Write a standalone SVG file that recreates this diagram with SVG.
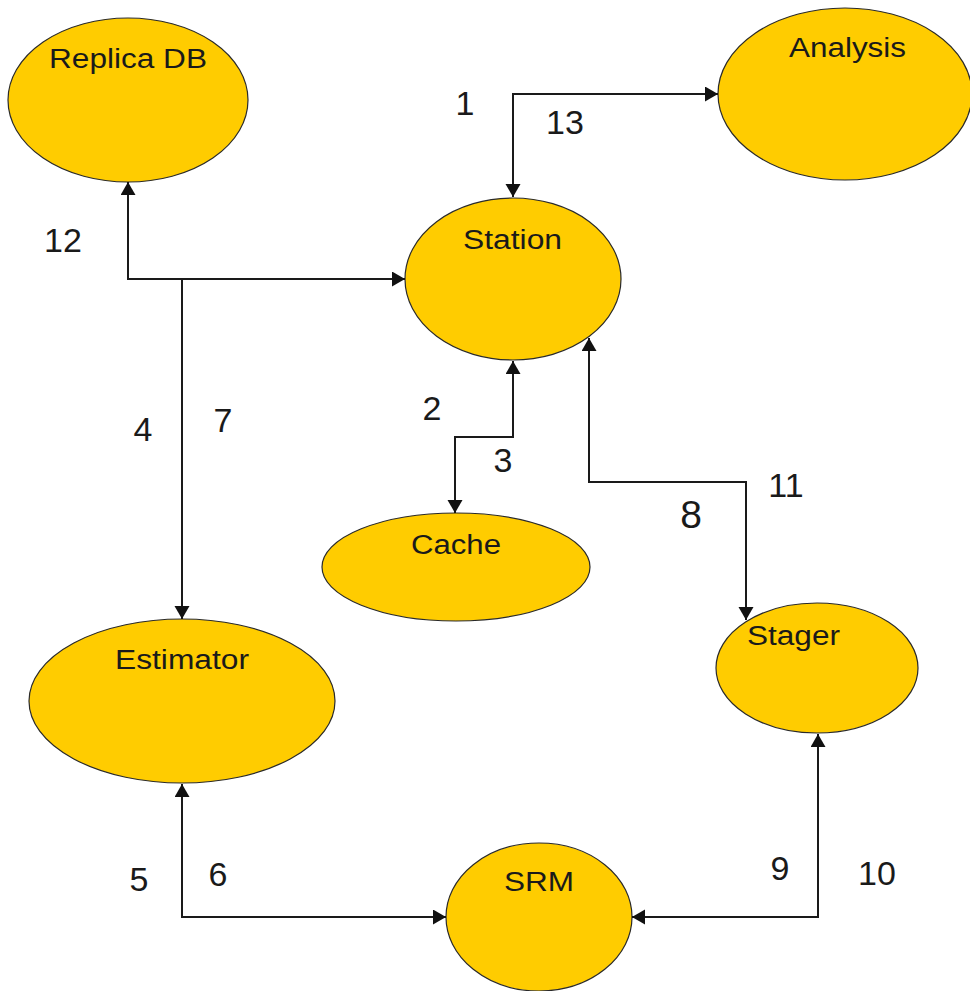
<svg xmlns="http://www.w3.org/2000/svg" width="970" height="991" viewBox="0 0 970 991">
  <style>
    .node { fill: #FFCC00; stroke: #2a2a2a; stroke-width: 1.2; }
    .name { font-family: "Liberation Sans", Arial, sans-serif; font-size: 27px; fill: #1a1a1a; }
    .num { font-family: "Liberation Sans", Arial, sans-serif; font-size: 34px; fill: #1a1a1a; text-anchor: middle; }
    .link { fill: none; stroke: #1a1a1a; stroke-width: 2; }
    .both { marker-start: url(#arrow); marker-end: url(#arrow); }
    .one { marker-end: url(#arrow); }
  </style>
  <defs>
    <marker id="arrow" markerUnits="userSpaceOnUse" markerWidth="14" markerHeight="16" refX="13" refY="7.5" orient="auto-start-reverse">
      <path d="M0,0 L13,7.5 L0,15 Z" fill="#111"/>
    </marker>
  </defs>

  <rect width="970" height="991" fill="#ffffff"/>

  <!-- nodes -->
  <g id="replica-db">
    <ellipse class="node" cx="128" cy="100" rx="120" ry="82"/>
    <text class="name" x="49" y="68" textLength="158" lengthAdjust="spacingAndGlyphs">Replica DB</text>
  </g>
  <g id="analysis">
    <ellipse class="node" cx="845" cy="94" rx="127" ry="86"/>
    <text class="name" x="789" y="57" textLength="117" lengthAdjust="spacingAndGlyphs">Analysis</text>
  </g>
  <g id="station">
    <ellipse class="node" cx="513" cy="279" rx="108" ry="81"/>
    <text class="name" x="463" y="249" textLength="99" lengthAdjust="spacingAndGlyphs">Station</text>
  </g>
  <g id="cache">
    <ellipse class="node" cx="456" cy="567" rx="134" ry="54"/>
    <text class="name" x="411" y="554" textLength="90" lengthAdjust="spacingAndGlyphs">Cache</text>
  </g>
  <g id="estimator">
    <ellipse class="node" cx="182" cy="701" rx="153" ry="82"/>
    <text class="name" x="115" y="669" textLength="134" lengthAdjust="spacingAndGlyphs">Estimator</text>
  </g>
  <g id="stager">
    <ellipse class="node" cx="817" cy="668" rx="101" ry="65"/>
    <text class="name" x="747" y="645" textLength="93" lengthAdjust="spacingAndGlyphs">Stager</text>
  </g>
  <g id="srm">
    <ellipse class="node" cx="539" cy="917" rx="93" ry="74"/>
    <text class="name" x="504" y="891" textLength="70" lengthAdjust="spacingAndGlyphs">SRM</text>
  </g>

  <!-- connectors -->
  <g id="connectors">
    <path class="link both" d="M513,197 V94 H718"/>
    <path class="link both" d="M128,182 V279 H405"/>
    <path class="link one" d="M182,279 V619"/>
    <path class="link both" d="M513,361 V437 H455 V513"/>
    <path class="link both" d="M589,338 V482 H746 V620"/>
    <path class="link both" d="M182,784 V917 H446"/>
    <path class="link both" d="M818,734 V917 H632"/>
  </g>

  <!-- step numbers -->
  <g id="steps">
    <text class="num" x="465" y="115">1</text>
    <text class="num" x="565" y="134">13</text>
    <text class="num" x="63" y="252">12</text>
    <text class="num" x="143" y="441">4</text>
    <text class="num" x="223" y="432">7</text>
    <text class="num" x="432" y="420">2</text>
    <text class="num" x="503" y="472">3</text>
    <text class="num" x="691" y="528" style="font-size:39px">8</text>
    <text class="num" x="786" y="497">11</text>
    <text class="num" x="139" y="891">5</text>
    <text class="num" x="218" y="886">6</text>
    <text class="num" x="780" y="880">9</text>
    <text class="num" x="877" y="885">10</text>
  </g>
</svg>
